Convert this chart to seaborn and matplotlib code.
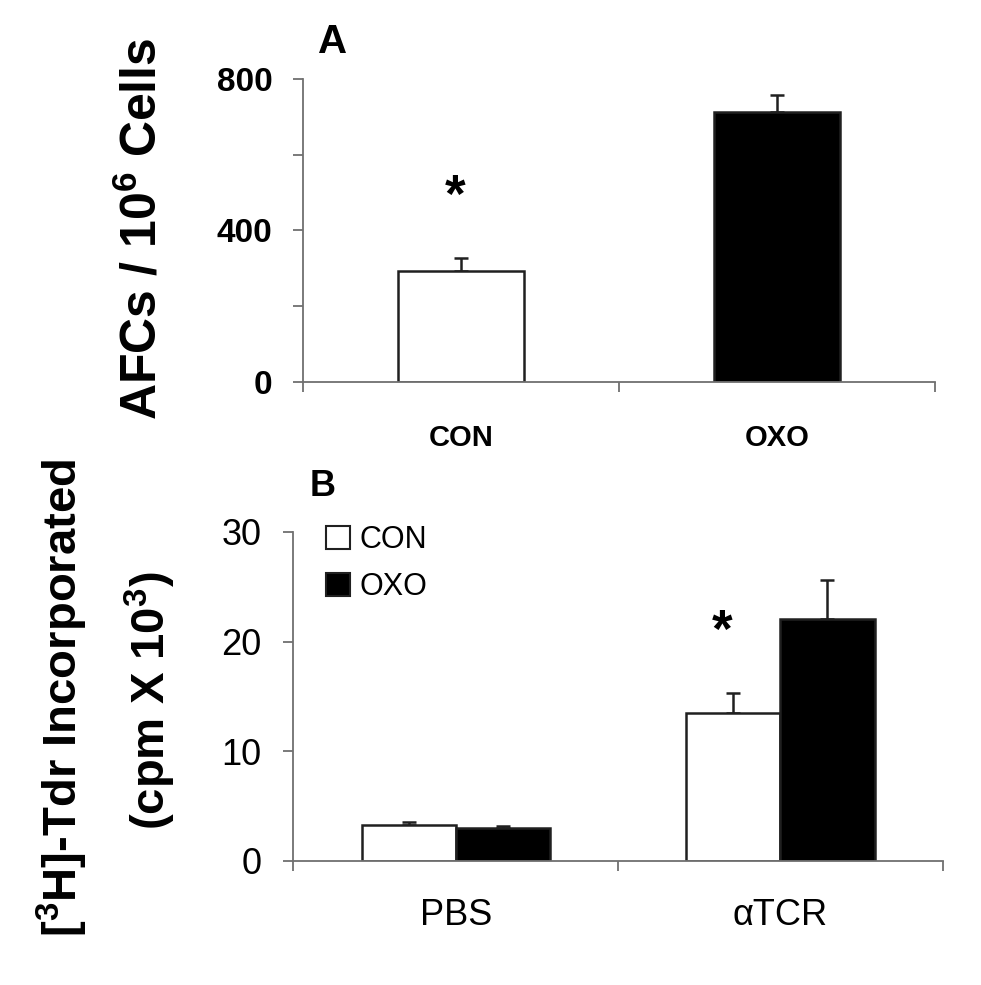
import numpy as np
import pandas as pd
import matplotlib
matplotlib.use('Agg')
import matplotlib.pyplot as plt
from matplotlib.patches import Patch
import seaborn as sns

# Panel A data
cats_a = ['CON', 'OXO']
afc_mean = [293, 712]
afc_err = [34, 45]

# Panel B data
groups_b = ['PBS', 'αTCR']
treatments = ['CON', 'OXO']
con_b = [3.3, 13.5]
oxo_b = [3.0, 22.1]
con_b_err = [0.25, 1.8]
oxo_b_err = [0.2, 3.5]

sns.set_style('ticks')
plt.rcParams['font.family'] = ['Liberation Sans', 'DejaVu Sans']
plt.rcParams['mathtext.fontset'] = 'custom'
plt.rcParams['mathtext.rm'] = 'Liberation Sans'
plt.rcParams['mathtext.bf'] = 'Liberation Sans:bold'
plt.rcParams['text.color'] = 'black'
plt.rcParams['xtick.labelcolor'] = 'black'
plt.rcParams['ytick.labelcolor'] = 'black'

spine_col = '#707070'
edge_col = '#202020'

fig = plt.figure(figsize=(9.81, 9.85), dpi=100)
ax_a = fig.add_axes([0.309, 0.612, 0.644, 0.308])
ax_b = fig.add_axes([0.299, 0.126, 0.662, 0.334])


def style_axis(ax):
    for s in ['top', 'right']:
        ax.spines[s].set_visible(False)
    for s in ['left', 'bottom']:
        ax.spines[s].set_color(spine_col)
        ax.spines[s].set_linewidth(1.3)
    ax.set_xlim(-0.5, 1.5)
    ax.set_xticks([-0.5, 0.5, 1.5])
    ax.set_xticklabels([])
    ax.tick_params(axis='both', which='major', length=7, width=1.3, color=spine_col,
                   labelcolor='black', direction='out')
    ax.set_xlabel('')
    ax.set_ylabel('')


def add_errors(ax, errs):
    for cont, err in zip(ax.containers, errs):
        xs = [p.get_x() + p.get_width() / 2 for p in cont.patches]
        ys = [p.get_height() for p in cont.patches]
        ax.errorbar(xs, ys, yerr=[np.zeros(len(err)), err], fmt='none', ecolor=edge_col,
                    elinewidth=1.8, capsize=5, capthick=1.8, zorder=1)


# ---- Panel A ----
df_a = pd.DataFrame({'group': cats_a, 'afc': afc_mean})
sns.barplot(data=df_a, x='group', y='afc', hue='group', palette=['white', 'black'],
            edgecolor=edge_col, linewidth=1.8, width=0.4, legend=False, ax=ax_a, zorder=2)
add_errors(ax_a, [[afc_err[0]], [afc_err[1]]])
style_axis(ax_a)
ax_a.set_ylim(0, 800)
ax_a.set_yticks([0, 200, 400, 600, 800])
ax_a.set_yticklabels(['0', '', '400', '', '800'], fontsize=24, fontweight='bold')
ax_a.tick_params(axis='y', pad=15)
ax_a.set_xticks([0, 1], minor=True)
ax_a.set_xticklabels(cats_a, minor=True, fontsize=21, fontweight='bold')
ax_a.tick_params(axis='x', which='minor', length=0, pad=30)
ax_a.text(-0.02, 485, '*', ha='center', va='center', fontsize=38, fontweight='bold')
fig.text(333 / 981, 1 - 42 / 985, 'A', ha='center', va='center', fontsize=29, fontweight='bold')
fig.text(142 / 981, 1 - 229 / 985, r'AFCs / 10$^{\mathbf{6}}$ Cells', rotation=90,
         ha='center', va='center', fontsize=36, fontweight='bold')

# ---- Panel B ----
df_b = pd.DataFrame({
    'stim': groups_b * 2,
    'treat': [treatments[0]] * 2 + [treatments[1]] * 2,
    'cpm': con_b + oxo_b,
})
sns.barplot(data=df_b, x='stim', y='cpm', hue='treat', hue_order=treatments,
            palette=['white', 'black'], edgecolor=edge_col, linewidth=1.8, width=0.58,
            legend=False, ax=ax_b, zorder=2)
add_errors(ax_b, [con_b_err, oxo_b_err])
style_axis(ax_b)
ax_b.set_ylim(0, 30)
ax_b.set_yticks([0, 10, 20, 30])
ax_b.set_yticklabels(['0', '10', '20', '30'], fontsize=26)
ax_b.tick_params(axis='y', pad=16)
ax_b.set_xticks([0, 1], minor=True)
ax_b.set_xticklabels(groups_b, minor=True, fontsize=26)
ax_b.tick_params(axis='x', which='minor', length=0, pad=27)
ax_b.text(0.82, 20.8, '*', ha='center', va='center', fontsize=38, fontweight='bold')

handles = [Patch(facecolor='white', edgecolor=edge_col, linewidth=1.5),
           Patch(facecolor='black', edgecolor=edge_col, linewidth=1.5)]
ax_b.legend(handles, treatments, loc='upper left', bbox_to_anchor=(0.05, 1.02), frameon=False,
            fontsize=22, handlelength=0.8, handleheight=0.8, handletextpad=0.3,
            labelspacing=0.55, borderpad=0, borderaxespad=0, labelcolor='black')

fig.text(323 / 981, 1 - 487 / 985, 'B', ha='center', va='center', fontsize=26, fontweight='bold')
fig.text(62 / 981, 1 - 698 / 985, r'[$^{\mathbf{3}}$H]-Tdr Incorporated', rotation=90,
         ha='center', va='center', fontsize=34, fontweight='bold')
fig.text(150 / 981, 1 - 701 / 985, r'(cpm X 10$^{\mathbf{3}}$)', rotation=90,
         ha='center', va='center', fontsize=34, fontweight='bold')

fig.savefig('out.png', dpi=100, facecolor='white')
